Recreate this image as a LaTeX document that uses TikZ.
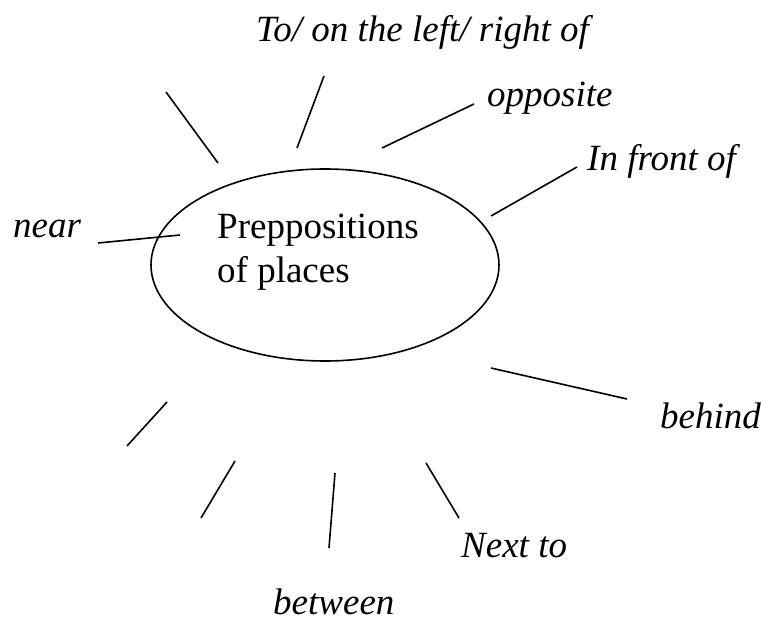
\documentclass[tikz,border=0pt]{standalone}
\usepackage{fontspec}
\setmainfont{Liberation Serif}
\usetikzlibrary{shapes.geometric}
\tikzset{
  spoke/.style={draw=black, line width=1.6pt},
  lbl/.style={anchor=base west, inner sep=0pt, text depth=0pt, font=\fontsize{37}{44}\selectfont\itshape},
  hubtext/.style={anchor=base west, inner sep=0pt, text depth=0pt, font=\fontsize{37}{44}\selectfont},
  hubshape/.style={draw=black, line width=1.6pt, ellipse, minimum width=348pt, minimum height=192pt, inner sep=0pt}
}
\begin{document}
\begin{tikzpicture}[x=1pt,y=-1pt]
\useasboundingbox (0,0) rectangle (763,623);
\fill[white] (0,0) rectangle (763,623);
% central ellipse
\node[hubshape] (hub) at (325,265) {};
\node[hubtext] (t1) at (217,238) {Preppositions};
\node[hubtext] (t2) at (217,282) {of places};
% labels
\node[lbl] (lto) at (256,42) {To/ on the left/ right of};
\node[lbl] (lopp) at (487,107) {opposite};
\node[lbl] (lfront) at (587,171) {In front of};
\node[lbl] (lnear) at (13,237) {near};
\node[lbl] (lbehind) at (660,428) {behind};
\node[lbl] (lnext) at (461,557) {Next to};
\node[lbl] (lbetween) at (273,614) {between};
% spoke end points
\coordinate (a1) at (166,92);   \coordinate (b1) at (218,163);
\coordinate (a2) at (324,76);   \coordinate (b2) at (297,148);
\coordinate (a3) at (474,104);  \coordinate (b3) at (382,148);
\coordinate (a4) at (577,167);  \coordinate (b4) at (491,216);
\coordinate (a5) at (98,243);   \coordinate (b5) at (180,235);
\coordinate (a6) at (491,368);  \coordinate (b6) at (627,399);
\coordinate (a7) at (167,402);  \coordinate (b7) at (127,446);
\coordinate (a8) at (235,461);  \coordinate (b8) at (201,518);
\coordinate (a9) at (335,473);  \coordinate (b9) at (329,548);
\coordinate (a10) at (426,463); \coordinate (b10) at (459,518);
% spokes
\draw[spoke] (a1) -- (b1);
\draw[spoke] (a2) -- (b2);
\draw[spoke] (a3) -- (b3);
\draw[spoke] (a4) -- (b4);
\draw[spoke] (a5) -- (b5);
\draw[spoke] (a6) -- (b6);
\draw[spoke] (a7) -- (b7);
\draw[spoke] (a8) -- (b8);
\draw[spoke] (a9) -- (b9);
\draw[spoke] (a10) -- (b10);
\end{tikzpicture}
\end{document}
